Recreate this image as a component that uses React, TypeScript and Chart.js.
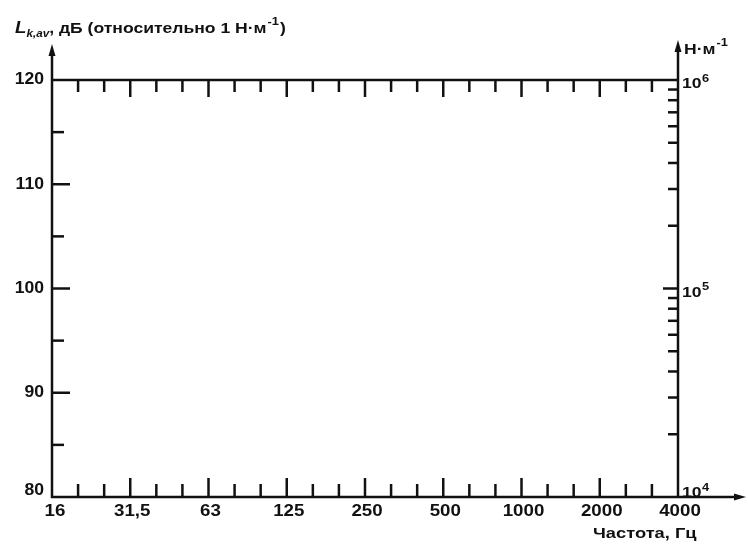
import React, { useEffect, useRef } from "react";
import { Chart, registerables } from "chart.js";

Chart.register(...registerables);

// Third-octave band centre frequencies, Hz (x axis)
const thirdOctaveBands = ["16", "20", "25", "31,5", "40", "50", "63", "80", "100", "125", "160", "200", "250", "315", "400", "500", "630", "800", "1000", "1250", "1600", "2000", "2500", "3150", "4000"];
// Octave bands that are labelled
const octaveLabels = ["16", "31,5", "63", "125", "250", "500", "1000", "2000", "4000"];
// Left axis: level, dB re 1 N/m
const levelMin = 80;
const levelMax = 120;
const levelStep = 5;
const levelLabels = [80, 90, 100, 110, 120];
// Right axis: stiffness, N/m (log)
const stiffnessMin = 1e4;
const stiffnessMax = 1e6;
const stiffnessDecades = [4, 5, 6];

const FONT = '"Liberation Sans", Arial, sans-serif';
const SX = 1.17;

function txt(ctx: CanvasRenderingContext2D, s: string, x: number, y: number, font: string, align: CanvasTextAlign = "left", base: CanvasTextBaseline = "alphabetic", sx = SX): number {
  ctx.save();
  ctx.font = font;
  ctx.textAlign = align;
  ctx.textBaseline = base;
  ctx.translate(x, y);
  ctx.scale(sx, 1);
  ctx.fillText(s, 0, 0);
  const w = ctx.measureText(s).width * sx;
  ctx.restore();
  return w;
}

function drawSup(ctx: CanvasRenderingContext2D, base: string, sup: string, x: number, y: number, size: number) {
  const w = txt(ctx, base, x, y, `bold ${size}px ${FONT}`);
  txt(ctx, sup, x + w + 0.5, y - size * 0.42, `bold ${Math.round(size * 0.7)}px ${FONT}`);
}

const framePlugin = {
  id: "frame",
  afterDraw(chart: any) {
    const ctx: CanvasRenderingContext2D = chart.ctx;
    const xs = chart.scales.x;
    const ys = chart.scales.y;
    const y2 = chart.scales.y2;
    const n = thirdOctaveBands.length;
    const L = xs.getPixelForValue(0);
    const R = xs.getPixelForValue(n - 1);
    const T = ys.getPixelForValue(levelMax);
    const B = ys.getPixelForValue(levelMin);
    ctx.save();
    ctx.strokeStyle = "#111";
    ctx.fillStyle = "#111";
    ctx.lineCap = "butt";
    ctx.lineWidth = 2.5;

    const line = (x1: number, y1: number, x2: number, y2_: number) => {
      ctx.beginPath();
      ctx.moveTo(x1, y1);
      ctx.lineTo(x2, y2_);
      ctx.stroke();
    };
    const tri = (pts: number[][]) => {
      ctx.beginPath();
      ctx.moveTo(pts[0][0], pts[0][1]);
      ctx.lineTo(pts[1][0], pts[1][1]);
      ctx.lineTo(pts[2][0], pts[2][1]);
      ctx.closePath();
      ctx.fill();
    };

    // axes
    line(L, B + 1, L, 54);
    tri([[L, 44], [L - 3.5, 56], [L + 3.5, 56]]);
    line(R, B + 1, R, 51);
    tri([[R, 40], [R - 3.5, 52], [R + 3.5, 52]]);
    line(L - 1, B, 736, B);
    tri([[746, B], [734, B - 3.5], [734, B + 3.5]]);
    line(L - 1, T, R + 1, T);

    // x ticks (bottom up, top down)
    for (let i = 1; i < n - 1; i++) {
      const px = xs.getPixelForValue(i);
      const major = i % 3 === 0;
      line(px, B, px, B - (major ? 19 : 13));
      line(px, T, px, T + (major ? 17 : 12));
    }

    // left ticks
    for (let v = levelMin + levelStep; v < levelMax; v += levelStep) {
      const py = ys.getPixelForValue(v);
      const major = v % 10 === 0;
      line(L, py, L + (major ? 18 : 12), py);
    }

    // right ticks (log minor)
    for (let d = 0; d < stiffnessDecades.length - 1; d++) {
      const base = Math.pow(10, stiffnessDecades[d]);
      for (let m = 2; m <= 9; m++) {
        const py = y2.getPixelForValue(base * m);
        line(R, py, R - 10, py);
      }
    }
    const pyMid = y2.getPixelForValue(Math.pow(10, stiffnessDecades[1]));
    line(R, pyMid, R - 15, pyMid);

    const f16 = `bold 16px ${FONT}`;
    // x labels
    for (let i = 0; i < n; i++) {
      const lab = thirdOctaveBands[i];
      if (!octaveLabels.includes(lab)) continue;
      txt(ctx, lab, xs.getPixelForValue(i) + (i === 0 ? 3 : 2), B + 15, f16, "center", "middle");
    }

    // left labels
    for (const v of levelLabels) {
      const py = ys.getPixelForValue(v);
      txt(ctx, String(v), L - 8, v === levelMin ? py - 6 : py, f16, "right", "middle", 1.1);
    }

    // right labels
    for (const d of stiffnessDecades) {
      const py = y2.getPixelForValue(Math.pow(10, d));
      const yy = d === 4 ? py : py + 8;
      drawSup(ctx, "10", String(d), R + 4, yy, 15);
    }

    // left title
    let cx = 15;
    const by = 33;
    cx += txt(ctx, "L", cx, by, `italic bold 16px ${FONT}`);
    cx += txt(ctx, "k,av", cx, by + 4, `italic bold 10px ${FONT}`);
    cx += txt(ctx, ", дБ (относительно 1 Н·м", cx, by, `bold 15px ${FONT}`);
    cx += txt(ctx, "-1", cx + 1, by - 8, `bold 11px ${FONT}`) + 2;
    txt(ctx, ")", cx, by, `bold 15px ${FONT}`);

    // right title
    const w2 = txt(ctx, "Н·м", R + 6, 54, `bold 15px ${FONT}`);
    txt(ctx, "-1", R + 7 + w2, 46, `bold 11px ${FONT}`);

    // x title
    txt(ctx, "Частота, Гц", 593, 538, `bold 15px ${FONT}`, "left", "alphabetic", 1.22);

    ctx.restore();
  },
};

export default function App() {
  const ref = useRef<HTMLCanvasElement | null>(null);
  useEffect(() => {
    document.body.style.margin = "0";
    const canvas = ref.current;
    if (!canvas) return;
    const chart = new Chart(canvas, {
      type: "line",
      data: { labels: thirdOctaveBands, datasets: [] },
      options: {
        animation: false,
        responsive: false,
        events: [],
        layout: { padding: { left: 52, right: 70, top: 80, bottom: 49 } },
        plugins: { legend: { display: false }, tooltip: { enabled: false }, title: { display: false } },
        scales: {
          x: { type: "category", offset: false, display: false },
          y: { type: "linear", min: levelMin, max: levelMax, ticks: { stepSize: levelStep }, display: false },
          y2: { type: "logarithmic", position: "right", min: stiffnessMin, max: stiffnessMax, display: false },
        },
      },
      plugins: [framePlugin],
    } as any);
    return () => chart.destroy();
  }, []);
  return (
    <div style={{ width: 748, height: 546 }}>
      <canvas ref={ref} width={748} height={546} style={{ display: "block", width: 748, height: 546 }} />
    </div>
  );
}
